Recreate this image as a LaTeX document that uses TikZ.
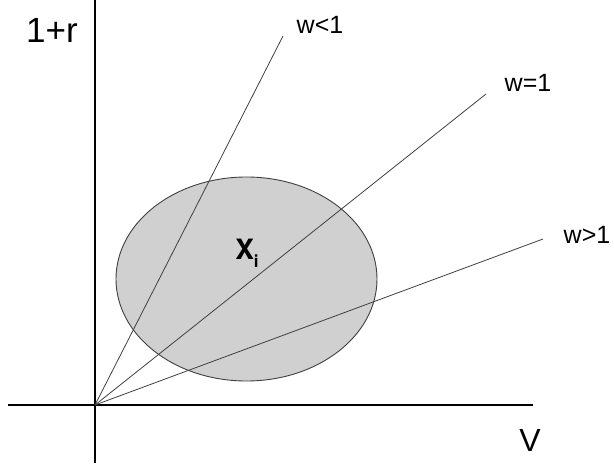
\documentclass[tikz,border=0pt]{standalone}
\usepackage{fontspec}
\setmainfont{Liberation Sans}
\newfontfamily\setfont{TeX Gyre Heros}
\usepackage{tikz}
\usetikzlibrary{positioning}
\definecolor{rayline}{HTML}{404040}
\definecolor{setfill}{HTML}{D0D0D0}

\begin{document}
\begin{tikzpicture}[
    x=1pt, y=-1pt,
    axis/.style={draw=black, line width=1.1pt},
    ray/.style={draw=rayline, line width=0.8pt},
    region/.style={draw=rayline, line width=0.9pt, fill=setfill},
    wlabel/.style={inner sep=0pt, font=\fontsize{25}{25}\selectfont}
]
    \useasboundingbox (0,0) rectangle (614,466);

    % feasible set
    \draw[region] (246.5,279) ellipse [x radius=130.5, y radius=102];
    \node[inner sep=0pt, font=\setfont\bfseries\fontsize{28}{28}\selectfont] (xi) at (247,253) {X\raisebox{-8pt}{\fontsize{17}{17}\selectfont i}};

    % axes
    \coordinate (O) at (95,405);
    \coordinate (ytop) at (95,0);
    \coordinate (ybot) at (95,463);
    \coordinate (xleft) at (8,405);
    \coordinate (xright) at (533,405);
    \draw[axis] (ybot) -- (ytop);
    \draw[axis] (xleft) -- (xright);
    \node[inner sep=0pt, font=\fontsize{35}{35}\selectfont] (ylab) at (52,30) {1+r};
    \node[inner sep=0pt, font=\fontsize{32}{32}\selectfont] (xlab) at (530,440) {V};

    % rays through the origin
    \coordinate (rlow) at (283,36);
    \coordinate (rmid) at (486,94);
    \coordinate (rhigh) at (543,239);
    \draw[ray] (O) -- (rlow);
    \draw[ray] (O) -- (rmid);
    \draw[ray] (O) -- (rhigh);
    \node[wlabel] (wlow) at (320,25) {w<1};
    \node[wlabel] (wmid) at (528,83) {w=1};
    \node[wlabel] (whigh) at (587,235) {w>1};
\end{tikzpicture}
\end{document}
